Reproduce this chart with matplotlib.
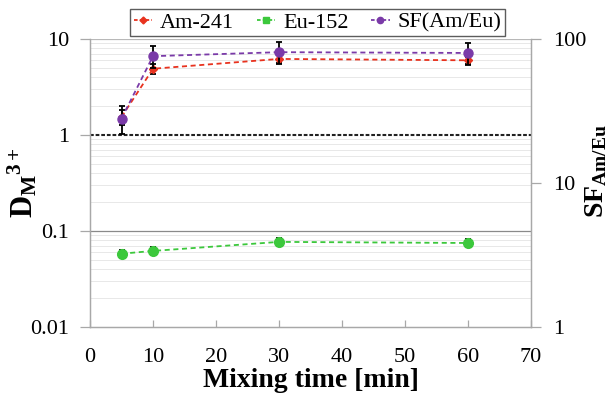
import matplotlib
matplotlib.use("Agg")
import matplotlib.pyplot as plt
from matplotlib.ticker import FixedLocator, FixedFormatter, NullFormatter
from matplotlib.lines import Line2D

plt.rcParams['font.family'] = ['Liberation Serif', 'DejaVu Serif']
plt.rcParams['mathtext.fontset'] = 'custom'
plt.rcParams['mathtext.rm'] = 'Liberation Serif'
plt.rcParams['mathtext.bf'] = 'Liberation Serif:bold'
plt.rcParams['mathtext.it'] = 'Liberation Serif:italic'

# Mixing time [min]
time = [5, 10, 30, 60]
# Distribution ratios
d_am = [1.54, 4.9, 6.2, 6.0]
d_am_err = [0.28, 0.55, 0.55, 0.55]
d_eu = [0.058, 0.062, 0.077, 0.075]
d_eu_err = [0.006, 0.006, 0.007, 0.007]
# Separation factor (right axis)
sf = [28.0, 76.0, 81.0, 80.0]
sf_err = [6.0, 13.0, 14.0, 14.0]

left_ticks = [0.01, 0.1, 1, 10]
left_labels = ['0.01', '0.1', '1', '10']
right_ticks = [1, 10, 100]
right_labels = ['1', '10', '100']
x_ticks = [0, 10, 20, 30, 40, 50, 60, 70]

c_am = '#e8321e'
c_eu = '#3cc83c'
c_sf = '#7a3aa8'
spine_c = '#a8a8a8'

fig = plt.figure(figsize=(6.11, 3.98), dpi=100)
ax = fig.add_axes([0.1473, 0.1784, 0.7218, 0.7236])
ax2 = ax.twinx()

ax.set_yscale('log')
ax.set_ylim(0.01, 10)
ax.set_xlim(0, 70)
ax2.set_yscale('log')
ax2.set_ylim(1, 100)

# grid lines
for dec in [0.01, 0.1, 1]:
    for m in range(2, 10):
        ax.axhline(dec * m, color='#e8e8e8', lw=0.7, zorder=0)
ax.axhline(10, color='#b8b8b8', lw=0.9, zorder=0)
ax.axhline(0.1, color='#8a8a8a', lw=0.9, zorder=0)
ax.axhline(1, color='#222222', lw=1.5, ls=(0, (1.8, 0.9)), zorder=1)

dash = (0, (2.8, 2.0))
ebkw = dict(ecolor='black', elinewidth=1.3, capsize=2, capthick=1.3, zorder=3)
ax.errorbar(time, d_am, yerr=d_am_err, color=c_am, ls=dash, lw=1.3,
            marker='D', ms=4, **ebkw)
ax.errorbar(time, d_eu, yerr=d_eu_err, color=c_eu, ls=dash, lw=1.3,
            marker='o', ms=7, **ebkw)
ax2.errorbar(time, sf, yerr=sf_err, color=c_sf, ls=dash, lw=1.3,
             marker='o', ms=6.5, **ebkw)

ax.yaxis.set_major_locator(FixedLocator(left_ticks))
ax.yaxis.set_major_formatter(FixedFormatter(left_labels))
ax.yaxis.set_minor_locator(FixedLocator([]))
ax.yaxis.set_minor_formatter(NullFormatter())
ax2.yaxis.set_major_locator(FixedLocator(right_ticks))
ax2.yaxis.set_major_formatter(FixedFormatter(right_labels))
ax2.yaxis.set_minor_locator(FixedLocator([]))
ax2.yaxis.set_minor_formatter(NullFormatter())
ax.set_xticks(x_ticks)

for a in (ax, ax2):
    for s in a.spines.values():
        s.set_color(spine_c)
        s.set_linewidth(0.9)
    a.spines['top'].set_visible(False)
ax.tick_params(axis='y', direction='out', length=7, width=0.9, color=spine_c,
               labelsize=16, pad=8)
ax2.tick_params(axis='y', direction='out', length=7, width=0.9, color=spine_c,
                labelsize=16, pad=9)
ax.tick_params(axis='x', direction='in', length=5, width=0.9, color=spine_c,
               labelsize=16, pad=15)

ax.set_xlabel('Mixing time [min]', fontsize=20, fontweight='bold', labelpad=1)
ax.set_ylabel(r'$\mathbf{D}_{\mathbf{M}}{}^{\mathbf{3+}}$', fontsize=22)
ax.yaxis.set_label_coords(-0.114, 0.5)
ax2.set_ylabel(r'$\mathbf{SF}_{\mathbf{Am/Eu}}$', fontsize=20)
ax2.yaxis.set_label_coords(1.118, 0.54)

handles = [
    Line2D([], [], color=c_am, ls=(0, (2.0, 1.2)), lw=1.3, marker='D', ms=3.5),
    Line2D([], [], color=c_eu, ls=(0, (2.0, 1.2)), lw=1.3, marker='s', ms=4.5),
    Line2D([], [], color=c_sf, ls=(0, (2.0, 1.2)), lw=1.3, marker='o', ms=4.5),
]
leg = fig.legend(handles, ['Am-241', 'Eu-152', 'SF(Am/Eu)'], loc='center',
                 bbox_to_anchor=(0.5196, 0.943), ncol=3, fontsize=16,
                 frameon=True, fancybox=False, edgecolor='#333333',
                 handlelength=0.85, handletextpad=0.35, columnspacing=1.0,
                 borderpad=0.15, borderaxespad=0)
leg.get_frame().set_linewidth(1.0)

fig.savefig('out.png', dpi=100)
